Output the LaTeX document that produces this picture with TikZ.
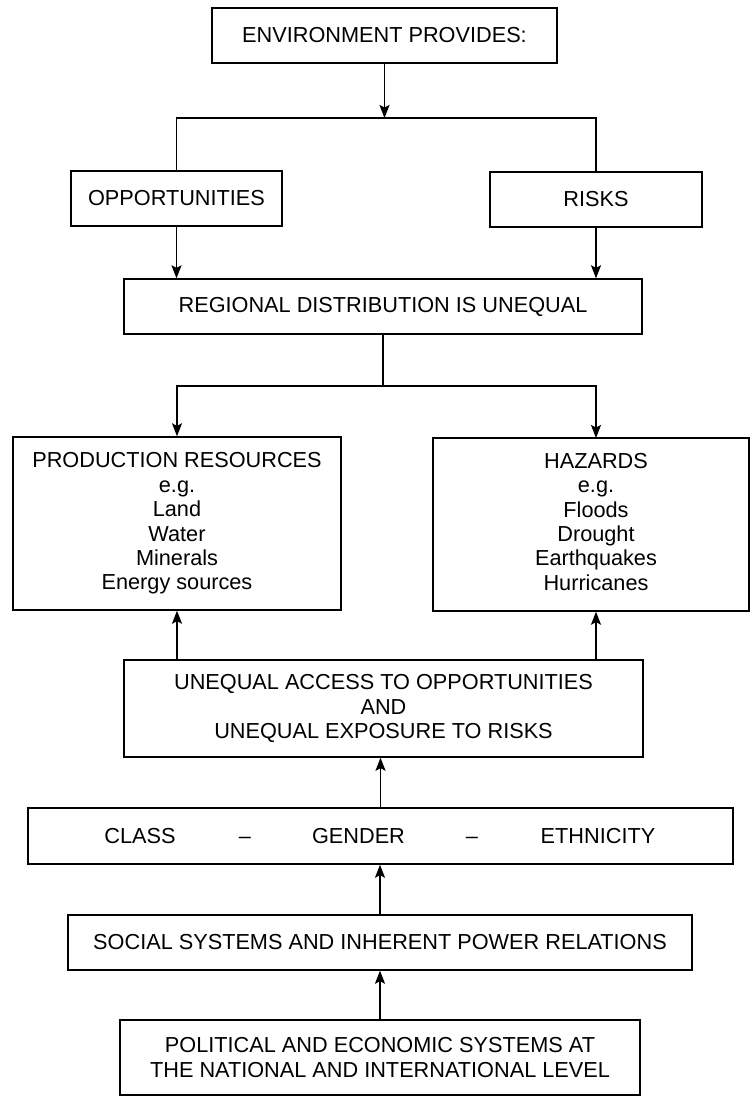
\documentclass[tikz,border=0pt]{standalone}
\usepackage{fontspec}
\setmainfont{Liberation Sans}
\usetikzlibrary{arrows.meta}
\begin{document}
\begin{tikzpicture}[x=1pt,y=-1pt,
  box/.style={draw, line width=1.4pt, inner sep=0pt, align=center,
    font=\fontsize{21.7}{24.4}\selectfont},
  lbl/.style={inner sep=0pt, anchor=base, font=\fontsize{21.7}{24.4}\selectfont},
  link/.style={line width=1.4pt},
  arr/.style={line width=1.4pt, -{Stealth[length=13pt,width=10pt,inset=2.5pt]}}]
\useasboundingbox[fill=white] (0,0) rectangle (750,1097);

\node[box, minimum width=345pt, minimum height=55pt] (env) at (384.5,35.5) {ENVIRONMENT PROVIDES:};
\node[box, minimum width=211pt, minimum height=55pt] (opp) at (176.5,198.5) {OPPORTUNITIES};
\node[box, minimum width=212pt, minimum height=55pt] (risks) at (596,199.5) {RISKS};
\node[box, minimum width=518pt, minimum height=55pt] (reg) at (383,306.5) {REGIONAL DISTRIBUTION IS UNEQUAL};
\node[box, minimum width=328pt, minimum height=173pt] (prod) at (177,523.5)
  {PRODUCTION RESOURCES\\e.g.\\Land\\Water\\Minerals\\Energy sources};
\node[box, minimum width=316pt, minimum height=173pt] (haz) at (591,524.5)
  {\hspace*{10pt}\begin{tabular}{@{}c@{}}HAZARDS\\e.g.\\Floods\\Drought\\Earthquakes\\Hurricanes\end{tabular}};
\node[box, minimum width=519pt, minimum height=97pt] (unq) at (383.5,708.5)
  {UNEQUAL ACCESS TO OPPORTUNITIES\\AND\\UNEQUAL EXPOSURE TO RISKS};
\node[box, minimum width=705pt, minimum height=56pt] (cge) at (380.5,836) {};
\node[lbl] (cls) at (140,843) {CLASS};
\node[lbl] (d1) at (245,843) {–};
\node[lbl] (gen) at (358.5,843) {GENDER};
\node[lbl] (d2) at (472,843) {–};
\node[lbl] (eth) at (598,843) {ETHNICITY};
\node[box, minimum width=624pt, minimum height=55pt] (soc) at (380,942.5) {SOCIAL SYSTEMS AND INHERENT POWER RELATIONS};
\node[box, minimum width=520pt, minimum height=75pt] (pol) at (380,1057.5)
  {POLITICAL AND ECONOMIC SYSTEMS AT\\THE NATIONAL AND INTERNATIONAL LEVEL};

\coordinate (s1) at (384.5,118);
\coordinate (s2) at (383,386);
\coordinate (hz) at (596,438);

\draw[arr] (env.south) -- (s1);
\draw[link] (opp.north) -- (opp.north |- s1) -- (risks.north |- s1) -- (risks.north);
\draw[arr] (opp.south) -- (opp.south |- reg.north);
\draw[arr] (risks.south) -- (risks.south |- reg.north);
\draw[link] (reg.south) -- (s2);
\draw[arr] (s2) -| (prod.north);
\draw[arr] (s2) -| (hz);
\draw[arr] (prod.south |- unq.north) -- (prod.south);
\draw[arr] (hz |- unq.north) -- (hz |- haz.south);
\draw[arr] (cge.north) -- (cge.north |- unq.south);
\draw[arr] (soc.north) -- (soc.north |- cge.south);
\draw[arr] (pol.north) -- (pol.north |- soc.south);
\end{tikzpicture}
\end{document}
